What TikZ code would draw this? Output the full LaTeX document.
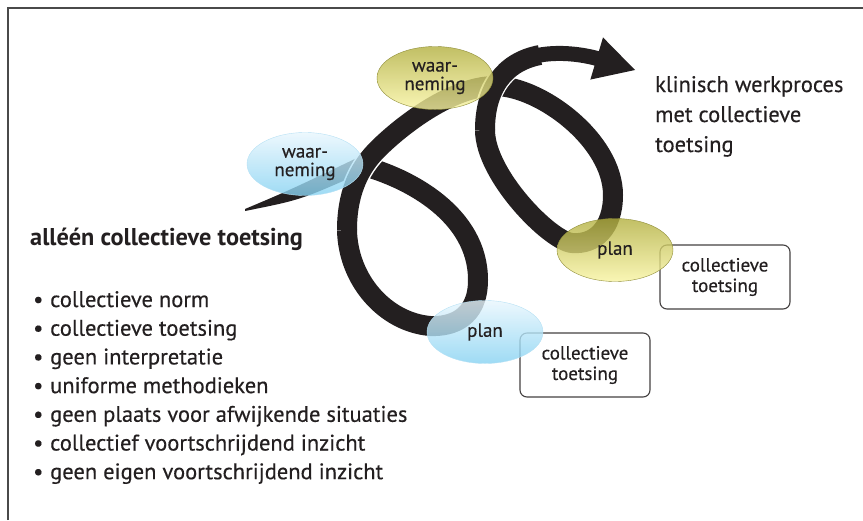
\documentclass[tikz,border=0pt]{standalone}
\usepackage{fontspec}
\setmainfont{PT Sans}[UprightFeatures={FakeBold=0.35}]
\usepackage{tikz}
\usetikzlibrary{arrows.meta,shapes.geometric}
\usetikzlibrary{positioning}

\definecolor{inkblack}{HTML}{231F20}
\definecolor{bluetop}{HTML}{E8F6FD}
\definecolor{bluebottom}{HTML}{86D2F2}
\definecolor{blueline}{HTML}{B5E0F4}
\definecolor{olivetop}{HTML}{B2AF3E}
\definecolor{olivebottom}{HTML}{F8F4A2}
\definecolor{oliveline}{HTML}{8E8C38}
\definecolor{frameline}{HTML}{4A4A4A}

\pgfdeclarelayer{back}
\pgfsetlayers{back,main}

\tikzset{
    ribbon/.style={
           draw=inkblack,
           line width=20pt,
           line cap=butt,
           },
    ribbontop/.style={
           ribbon,
           preaction={draw=white, line width=23pt, shorten <=3pt},
           },
    bubble/.style={
           ellipse,
           minimum width=116pt,
           minimum height=63pt,
           inner sep=0pt,
           fill opacity=0.8,
           text opacity=1,
           align=center,
           text=inkblack,
           font=\fontsize{19}{18.5}\selectfont,
           },
    bluebubble/.style={bubble, draw=blueline, top color=bluetop, bottom color=bluebottom},
    olivebubble/.style={bubble, draw=oliveline, top color=olivetop, bottom color=olivebottom},
    toetsbox/.style={
           rectangle,
           rounded corners=7pt,
           draw=inkblack!85, line width=1.1pt,
           minimum width=130pt,
           minimum height=64pt,
           align=center,
           text=inkblack,
           font=\fontsize{19}{20.5}\selectfont,
           },
}

\begin{document}
\begin{tikzpicture}[x=1pt,y=-1pt]

 \useasboundingbox (0,0) rectangle (863,520);
 \draw[frameline, line width=1.2pt] (8,520) -- (8,8) -- (863,8);

 % the ribbon: tapered start, first loop underneath
 \fill[inkblack] (245,209) .. controls (290,190) .. (362.5,155.3)
   -- (357.5,174.7) .. controls (300,200) .. (245,211) -- cycle;
 \draw[ribbon] (360,165) .. controls (410,178) and (478,215) .. (478,280)
   .. controls (478,318) and (452,327) .. (430,326)
   .. controls (385,322) and (348,280) .. (347,230);

 % up over the first crossing, round the second loop
 \draw[ribbontop] (347,230) .. controls (347,195) and (358,170) .. (375,152)
   .. controls (396,130) and (450,86) .. (495,86)
   .. controls (540,86) and (613,140) .. (613,195)
   .. controls (613,228) and (595,245) .. (572,243)
   .. controls (550,241) and (485,175) .. (485,130);

 % over the second crossing and out with the arrow
 \draw[ribbontop] (485,130) .. controls (485,90) and (503,62) .. (540,55);
 \draw[ribbon, line width=15pt, shorten <=-1.5pt,
   -{Triangle[length=40pt,width=44pt,line width=0pt]}]
   (540,55) .. controls (572,49) and (605,61) .. (635,70);

 % the four stages on the ribbon
 \node[bluebubble] (waar1) at (305,164) {waar-\\neming};
 \node[bluebubble] (plan1) at (485,332) {plan};
 \node[olivebubble] (waar2) at (435,78) {waar-\\neming};
 \node[olivebubble] (plan2) at (615,250) {plan};

 % boxes beside each plan, behind the bubbles
 \begin{pgfonlayer}{back}
 \node[toetsbox, right of=plan1, node distance=100pt, yshift=-33pt] (toets1)
  {collectieve\\toetsing};
 \node[toetsbox, right of=plan2, node distance=110pt, yshift=-27pt] (toets2)
  {collectieve\\toetsing};
 \end{pgfonlayer}

 % right hand caption
 \node[anchor=base west, inner sep=0pt, text=inkblack,
  font=\fontsize{22.5}{30}\selectfont] (werkproces) at (655,92)
 {\begin{tabular}[t]{@{}l@{}}
  klinisch werkproces\\
  met collectieve\\
  toetsing
 \end{tabular}};

 % left hand title and list
 \node[anchor=base west, inner sep=0pt, text=inkblack,
  font=\bfseries\fontsize{24.3}{27}\selectfont] (titel) at (30,245)
  {alléén collectieve toetsing};

 \node[anchor=base west, inner sep=0pt, text=inkblack,
  font=\fontsize{22.5}{28.7}\selectfont] (lijst) at (33,307)
 {\begin{tabular}[t]{@{}p{17pt}@{}l@{}}
  \textbullet & collectieve norm\\
  \textbullet & collectieve toetsing\\
  \textbullet & geen interpretatie\\
  \textbullet & uniforme methodieken\\
  \textbullet & geen plaats voor afwijkende situaties\\
  \textbullet & collectief voortschrijdend inzicht\\
  \textbullet & geen eigen voortschrijdend inzicht
 \end{tabular}};

\end{tikzpicture}
\end{document}
